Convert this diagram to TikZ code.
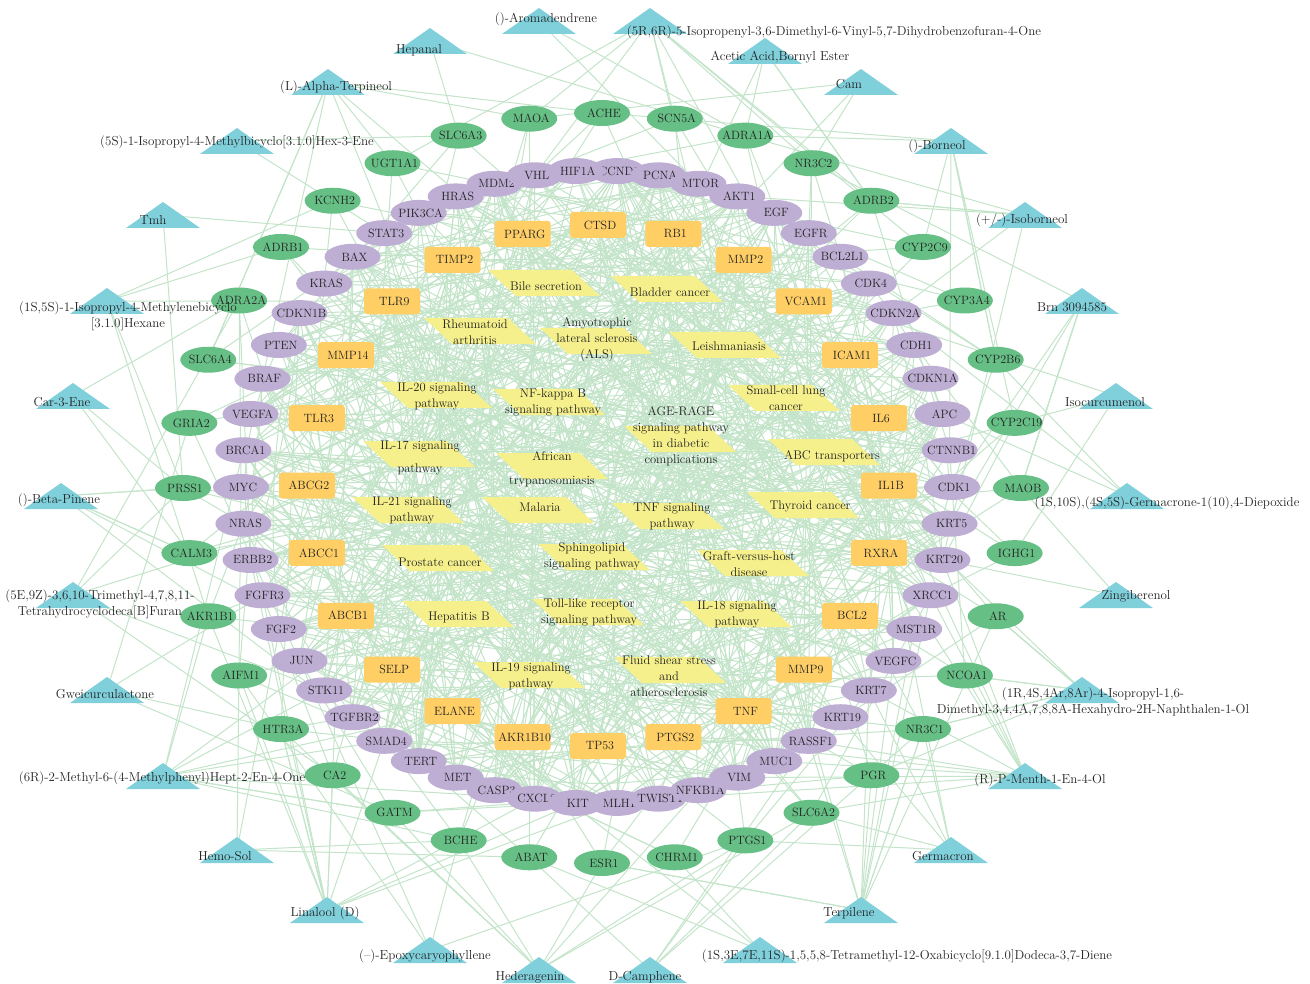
\documentclass[tikz,border=0pt]{standalone}
\usetikzlibrary{shapes.geometric}
\definecolor{cmpdcyan}{HTML}{80D0DC}
\definecolor{cptgreen}{HTML}{66BF85}
\definecolor{tgtpurple}{HTML}{BEAED4}
\definecolor{huborange}{HTML}{FFCF66}
\definecolor{pwyellow}{HTML}{F6F08C}
\definecolor{linkgreen}{HTML}{C3E4C9}
\definecolor{txt}{HTML}{222222}
\pgfdeclarelayer{edges}
\pgfsetlayers{edges,main}
\newcommand\gn[1]{\makebox[0pt]{\kern4pt#1}}
\tikzset{
  ring/.style={minimum width=56pt, minimum height=26pt, inner sep=0pt, text=txt},
  cpt/.style={ring, ellipse, fill=cptgreen},
  tgt/.style={ring, ellipse, fill=tgtpurple},
  hub/.style={ring, rectangle, rounded corners=3pt, fill=huborange},
  cmpd/.style={minimum width=74pt, minimum height=26pt, inner sep=0pt,
    path picture={\fill[cmpdcyan] (path picture bounding box.south west) -- (path picture bounding box.north) -- (path picture bounding box.south east) -- cycle;}},
  pway/.style={minimum width=112pt, minimum height=26pt, inner sep=0pt,
    path picture={\fill[pwyellow] (path picture bounding box.north west) -- ([xshift=-28pt]path picture bounding box.north east) -- (path picture bounding box.south east) -- ([xshift=28pt]path picture bounding box.south west) -- cycle;}},
  clbl/.style={inner sep=0pt, text=txt, align=center, font=\fontsize{13}{16}\selectfont},
  plbl/.style={inner sep=0pt, text=txt, align=center, font=\fontsize{12.5}{16}\selectfont},
  link/.style={draw=linkgreen, line width=1pt}
}
\begin{document}
\begin{tikzpicture}[x=1pt, y=-1pt, font=\fontsize{12}{16}\selectfont]
\useasboundingbox (0,0) rectangle (1310,984);

\node[cmpd, alias=c0] (germdiep) at (1127,496) {};
\node[cmpd, alias=c1] (isocurc) at (1116,396) {};
\node[cmpd, alias=c2] (brn) at (1082,301) {};
\node[cmpd, alias=c3] (isoborneol) at (1025,215) {};
\node[cmpd, alias=c4] (borneol) at (951,141) {};
\node[cmpd, alias=c5] (cam) at (861,82) {};
\node[cmpd, alias=c6] (bornylac) at (765,51) {};
\node[cmpd, alias=c7] (vinylbf) at (650,21) {};
\node[cmpd, alias=c8] (aromad) at (539,21) {};
\node[cmpd, alias=c9] (hepanal) at (430,41) {};
\node[cmpd, alias=c10] (terpineol) at (328,82) {};
\node[cmpd, alias=c11] (hexene) at (237,141) {};
\node[cmpd, alias=c12] (tmh) at (163,215) {};
\node[cmpd, alias=c13] (hexane) at (107,301) {};
\node[cmpd, alias=c14] (carene) at (73,396) {};
\node[cmpd, alias=c15] (pinene) at (61,496) {};
\node[cmpd, alias=c16] (furan) at (73,595) {};
\node[cmpd, alias=c17] (gweic) at (107,690) {};
\node[cmpd, alias=c18] (heptenone) at (163,776) {};
\node[cmpd, alias=c19] (hemosol) at (237,850) {};
\node[cmpd, alias=c20] (linalool) at (327,910) {};
\node[cmpd, alias=c21] (epoxy) at (430,950) {};
\node[cmpd, alias=c22] (hederagenin) at (539,970) {};
\node[cmpd, alias=c23] (camphene) at (650,970) {};
\node[cmpd, alias=c24] (diene) at (760,950) {};
\node[cmpd, alias=c25] (terpilene) at (861,910) {};
\node[cmpd, alias=c26] (germacron) at (951,850) {};
\node[cmpd, alias=c27] (menthenol) at (1025,776) {};
\node[cmpd, alias=c28] (naphthol) at (1082,690) {};
\node[cmpd, alias=c29] (zingiberenol) at (1116,595) {};

\foreach \n [count=\k from 0] in {MAOB,CYP2C19,CYP2B6,CYP3A4,CYP2C9,ADRB2,NR3C2,ADRA1A,SCN5A,ACHE,MAOA,SLC6A3,UGT1A1,KCNH2,ADRB1,ADRA2A,SLC6A4,GRIA2,PRSS1,CALM3,AKR1B1,AIFM1,HTR3A,CA2,GATM,BCHE,ABAT,ESR1,CHRM1,PTGS1,SLC6A2,PGR,NR3C1,NCOA1,AR,IGHG1}
  \node[cpt, alias=g\k] (\n) at ({602+419*cos(10*\k)},{488-375*sin(10*\k)}) {\gn{\n}};

\foreach \k/\n in {16/MDM2,17/HRAS,18/PIK3CA,19/STAT3,20/BAX,21/KRAS,22/CDKN1B,23/PTEN,24/BRAF,25/VEGFA,26/BRCA1,27/MYC,28/NRAS,29/ERBB2,30/FGFR3,31/FGF2,32/JUN,33/STK11,34/TGFBR2,35/SMAD4,36/TERT,37/MET,38/CASP3,39/CXCL8,40/KIT,41/MLH1,42/TWIST1,43/NFKB1A,44/VIM,45/MUC1,46/RASSF1,47/KRT19,48/KRT7,49/VEGFC,50/MST1R,51/XRCC1,52/KRT20,53/KRT5,15/VHL,13/CCND1,14/HIF1A,12/PCNA,0/CDK1,1/CTNNB1,2/APC,3/CDKN1A,4/CDH1,5/CDKN2A,6/CDK4,7/BCL2L1,8/EGFR,9/EGF,10/AKT1,11/MTOR}
  \node[tgt, alias=u\k] (\n) at ({596.5+355.5*cos(\k*20/3)},{487-316.5*sin(\k*20/3)}) {\gn{\n}};

\foreach \n [count=\k from 0] in {IL1B,IL6,ICAM1,VCAM1,MMP2,RB1,CTSD,PPARG,TIMP2,TLR9,MMP14,TLR3,ABCG2,ABCC1,ABCB1,SELP,ELANE,AKR1B10,TP53,PTGS2,TNF,MMP9,BCL2,RXRA}
  \node[hub, alias=o\k] (\n) at ({598+291*cos(15*\k)},{485.5-260.5*sin(15*\k)}) {\gn{\n}};

\node[clbl] (germdiep-l) at (1167,503) {(1S,10S),(4S,5S)-Germacrone-1(10),4-Diepoxide};
\node[clbl] (isocurc-l) at (1105,402) {Isocurcumenol};
\node[clbl] (brn-l) at (1072,307) {Brn 3094585};
\node[clbl] (isoborneol-l) at (1022,220) {(+/-)-Isoborneol};
\node[clbl] (borneol-l) at (937,146) {()-Borneol};
\node[clbl] (cam-l) at (849,84) {Cam};
\node[clbl] (bornylac-l) at (780,57) {Acetic Acid,Bornyl Ester};
\node[clbl] (vinylbf-l) at (834,32) {(5R,6R)-5-Isopropenyl-3,6-Dimethyl-6-Vinyl-5,7-Dihydrobenzofuran-4-One};
\node[clbl] (aromad-l) at (546,19) {()-Aromadendrene};
\node[clbl] (hepanal-l) at (419,50) {Hepanal};
\node[clbl] (terpineol-l) at (336,87) {(L)-Alpha-Terpineol};
\node[clbl] (hexene-l) at (237,142) {(5S)-1-Isopropyl-4-Methylbicyclo[3.1.0]Hex-3-Ene};
\node[clbl] (tmh-l) at (153,220) {Tmh};
\node[clbl] (hexane-l) at (128,316) {(1S,5S)-1-Isopropyl-4-Methylenebicyclo\\{}[3.1.0]Hexane};
\node[clbl] (carene-l) at (62,402) {Car-3-Ene};
\node[clbl] (pinene-l) at (59,500) {()-Beta-Pinene};
\node[clbl] (furan-l) at (100,604) {(5E,9Z)-3,6,10-Trimethyl-4,7,8,11-\\Tetrahydrocyclodeca[B]Furan};
\node[clbl] (gweic-l) at (105,694) {Gweicurculactone};
\node[clbl] (heptenone-l) at (162,778) {(6R)-2-Methyl-6-(4-Methylphenyl)Hept-2-En-4-One};
\node[clbl] (hemosol-l) at (225,856) {Hemo-Sol};
\node[clbl] (linalool-l) at (325,913) {Linalool (D)};
\node[clbl] (epoxy-l) at (425,956) {({--})-Epoxycaryophyllene};
\node[clbl] (hederagenin-l) at (530,977) {Hederagenin};
\node[clbl] (camphene-l) at (645,977) {D-Camphene};
\node[clbl] (diene-l) at (907,956) {(1S,3E,7E,11S)-1,5,5,8-Tetramethyl-12-Oxabicyclo[9.1.0]Dodeca-3,7-Diene};
\node[clbl] (terpilene-l) at (849,913) {Terpilene};
\node[clbl] (germacron-l) at (943,856) {Germacron};
\node[clbl] (menthenol-l) at (1040,780) {(R)-P-Menth-1-En-4-Ol};
\node[clbl] (naphthol-l) at (1093,702) {(1R,4S,4Ar,8Ar)-4-Isopropyl-1,6-\\Dimethyl-3,4,4A,7,8,8A-Hexahydro-2H-Naphthalen-1-Ol};
\node[clbl] (zingiberenol-l) at (1136,596) {Zingiberenol};

\node[pway, alias=p0] (bile) at (544,283) {};
\node[pway, alias=p1] (bladder) at (667,289) {};
\node[pway, alias=p2] (ra) at (480,331) {};
\node[pway, alias=p3] (als) at (596,341) {};
\node[pway, alias=p4] (leish) at (725,345) {};
\node[pway, alias=p5] (il20) at (436,395) {};
\node[pway, alias=p6] (nfkb) at (549,402) {};
\node[pway, alias=p7] (sclc) at (784,398) {};
\node[pway, alias=p8] (agerage) at (680,439) {};
\node[pway, alias=p9] (il17) at (419,454) {};
\node[pway, alias=p10] (tryp) at (552,466) {};
\node[pway, alias=p11] (abc) at (824,452) {};
\node[pway, alias=p12] (il21) at (408,510) {};
\node[pway, alias=p13] (malaria) at (538,510) {};
\node[pway, alias=p14] (tnfpw) at (668,516) {};
\node[pway, alias=p15] (thyroid) at (803,505) {};
\node[pway, alias=p16] (prostate) at (438,558) {};
\node[pway, alias=p17] (sphingo) at (594,557) {};
\node[pway, alias=p18] (gvhd) at (753,563) {};
\node[pway, alias=p19] (hepb) at (458,614) {};
\node[pway, alias=p20] (tlr) at (588,612) {};
\node[pway, alias=p21] (il18) at (736,614) {};
\node[pway, alias=p22] (il19) at (529,675) {};
\node[pway, alias=p23] (fluid) at (670,670) {};

\node[plbl] (bile-t) at (546,286) {Bile secretion};
\node[plbl] (bladder-t) at (670,292) {Bladder cancer};
\node[plbl] (ra-t) at (475,332) {Rheumatoid\\arthritis};
\node[plbl] (als-t) at (597,340) {Amyotrophic\\lateral sclerosis\\(ALS)};
\node[plbl] (leish-t) at (729,346) {Leishmaniasis};
\node[plbl] (il20-t) at (437,396) {IL-20 signaling\\pathway};
\node[plbl] (nfkb-t) at (553,402) {NF-kappa B\\signaling pathway};
\node[plbl] (sclc-t) at (786,398) {Small-cell lung\\cancer};
\node[plbl] (agerage-t) at (681,436) {AGE-RAGE\\signaling pathway\\in diabetic\\complications};
\node[plbl] (il17-t) at (420,458) {IL-17 signaling\\[7pt]pathway};
\node[plbl] (tryp-t) at (552,469) {African\\[8pt]trypanosomiasis};
\node[plbl] (abc-t) at (832,456) {ABC transporters};
\node[plbl] (il21-t) at (412,510) {IL-21 signaling\\pathway};
\node[plbl] (malaria-t) at (540,507) {Malaria};
\node[plbl] (tnfpw-t) at (672,516) {TNF signaling\\pathway};
\node[plbl] (thyroid-t) at (810,506) {Thyroid cancer};
\node[plbl] (prostate-t) at (440,562) {Prostate cancer};
\node[plbl] (sphingo-t) at (592,556) {Sphingolipid\\signaling pathway};
\node[plbl] (gvhd-t) at (749,564) {Graft-versus-host\\disease};
\node[plbl] (hepb-t) at (459,617) {Hepatitis B};
\node[plbl] (tlr-t) at (589,612) {Toll-like receptor\\signaling pathway};
\node[plbl] (il18-t) at (737,614) {IL-18 signaling\\pathway};
\node[plbl] (il19-t) at (531,676) {IL-19 signaling\\pathway};
\node[plbl] (fluid-t) at (669,676) {Fluid shear stress\\and\\atherosclerosis};

\begin{pgfonlayer}{edges}
\pgfmathsetseed{7}
\foreach \i/\m in {0/3,1/3,2/6,3/6,4/7,5/3,6/4,7/9,8/2,9/2,10/8,11/2,12/2,13/5,14/3,15/6,16/5,17/4,18/10,19/4,20/12,21/4,22/8,23/5,24/3,25/12,26/6,27/12,28/9,29/2} {
  \pgfmathtruncatemacro\b{round(1.2*\i)}
  \pgfmathtruncatemacro\bu{round(1.8*\i)}
  \foreach \j in {1,...,\m} {
    \pgfmathrandominteger{\t}{0}{9}
    \ifnum\t<6
      \pgfmathrandominteger{\r}{-4}{4}
      \pgfmathtruncatemacro\x{mod(\b+\r+36,36)}
      \draw[link] (c\i.center) -- (g\x.center);
    \else\ifnum\t<9
      \pgfmathrandominteger{\r}{-7}{7}
      \pgfmathtruncatemacro\x{mod(\bu+\r+54,54)}
      \draw[link] (c\i.center) -- (u\x.center);
    \else
      \pgfmathrandominteger{\x}{0}{23}
      \draw[link] (c\i.center) -- (o\x.center);
    \fi\fi
  }
}
\foreach \i in {0,...,23} {
  \foreach \j in {1,...,12} {
    \pgfmathrandominteger{\x}{0}{53}
    \pgfmathrandominteger{\bb}{-25}{25}
    \draw[link] (p\i.center) to[bend left=\bb] (u\x.center);
  }
  \foreach \j in {1,...,7} {
    \pgfmathrandominteger{\x}{0}{23}
    \pgfmathrandominteger{\bb}{-25}{25}
    \draw[link] (p\i.center) to[bend left=\bb] (o\x.center);
  }
}
\foreach \i in {0,...,23} {
  \foreach \j in {1,...,8} {
    \pgfmathrandominteger{\x}{0}{53}
    \draw[link] (o\i.center) -- (u\x.center);
  }
}
\foreach \i in {0,...,53} {
  \foreach \j in {1,2} {
    \pgfmathrandominteger{\x}{0}{53}
    \pgfmathrandominteger{\bb}{-20}{20}
    \draw[link] (u\i.center) to[bend left=\bb] (u\x.center);
  }
}
\foreach \i in {0,...,35} {
  \foreach \j in {1,2,3} {
    \pgfmathrandominteger{\x}{0}{53}
    \draw[link] (g\i.center) -- (u\x.center);
  }
}
\end{pgfonlayer}
\end{tikzpicture}
\end{document}
